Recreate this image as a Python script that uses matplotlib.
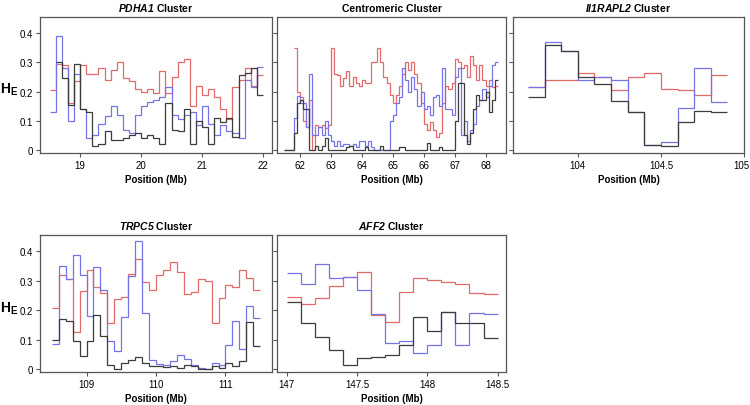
import numpy as np
import matplotlib
matplotlib.use("Agg")
import matplotlib.pyplot as plt
import matplotlib.transforms as mtransforms
from matplotlib import font_manager

# narrow sans if present, else plain Liberation Sans
FAM = "Liberation Sans"
try:
    font_manager.findfont("Liberation Sans Narrow", fallback_to_default=False)
    FAM = "Liberation Sans Narrow"
except Exception:
    pass

plt.rcParams['font.family'] = [FAM, 'DejaVu Sans']
plt.rcParams['mathtext.fontset'] = 'custom'
plt.rcParams['mathtext.bfit'] = FAM + ':bold:italic'
plt.rcParams['mathtext.rm'] = FAM + ':bold'

FS = 8 if FAM.endswith("Narrow") else 7

# ---- data: heterozygosity (H_E) in 0.1 Mb windows ----
bin_w = 0.1

# PDHA1 cluster
pdha1_start = 18.5
pdha1_red = [0.205, 0.295, 0.29, 0.16, 0.235, 0.29, 0.26, 0.26, 0.28, 0.24, 0.275, 0.30,
             0.245, 0.235, 0.21, 0.20, 0.21, 0.195, 0.27, 0.195, 0.25, 0.30, 0.31, 0.15,
             0.22, 0.19, 0.21, 0.18, 0.14, 0.105, 0.215, 0.24, 0.28, 0.22, 0.255]
pdha1_blue = [0.13, 0.39, 0.28, 0.10, 0.26, 0.14, 0.04, 0.05, 0.09, 0.115, 0.15, 0.12,
              0.07, 0.06, 0.12, 0.15, 0.165, 0.17, 0.18, 0.215, 0.12, 0.105, 0.12, 0.13,
              0.085, 0.15, 0.09, 0.05, 0.085, 0.065, 0.06, 0.04, 0.24, 0.215, 0.285]
pdha1_black_start = 18.6
pdha1_black = [0.30, 0.245, 0.155, 0.295, 0.14, 0.13, 0.015, 0.02, 0.065, 0.035, 0.035,
               0.04, 0.05, 0.06, 0.04, 0.05, 0.04, 0.02, 0.16, 0.07, 0.065, 0.14, 0.02,
               0.10, 0.08, 0.02, 0.11, 0.095, 0.11, 0.045, 0.255, 0.265, 0.28, 0.19]

# Centromeric cluster
cen_start = 61.5
cen_red_start = 61.8
cen_red = [0.35, 0.20, 0.18, 0.10, 0.08, 0.17, 0.0, 0.085, 0.08, 0.085, 0.075, 0.085,
           0.35, 0.26, 0.255, 0.22, 0.245, 0.27, 0.22, 0.25, 0.23, 0.22, 0.24, 0.23,
           0.23, 0.30, 0.30, 0.35, 0.30, 0.25, 0.23, 0.19, 0.16, 0.19, 0.22, 0.26,
           0.30, 0.275, 0.30, 0.26, 0.23, 0.16, 0.09, 0.07, 0.095, 0.07, 0.045, 0.06,
           0.16, 0.22, 0.21, 0.23, 0.31, 0.30, 0.28, 0.29, 0.25, 0.32, 0.29, 0.24,
           0.29, 0.24, 0.22, 0.24, 0.215, 0.22]
cen_blue = [0.0, 0.0, 0.0, 0.11, 0.185, 0.16, 0.16, 0.08, 0.26, 0.05, 0.05, 0.08,
            0.05, 0.10, 0.05, 0.03, 0.015, 0.03, 0.015, 0.02, 0.02, 0.015, 0.02, 0.01,
            0.03, 0.03, 0.015, 0.03, 0.01, 0.0, 0.0, 0.0, 0.0, 0.0, 0.10, 0.12,
            0.16, 0.18, 0.28, 0.24, 0.20, 0.25, 0.21, 0.15, 0.20, 0.14, 0.15, 0.12,
            0.18, 0.19, 0.15, 0.28, 0.14, 0.14, 0.12, 0.25, 0.28, 0.05, 0.10, 0.03,
            0.07, 0.09, 0.15, 0.17, 0.21, 0.18, 0.22, 0.29, 0.30]
cen_black = [0.0, 0.0, 0.0, 0.06, 0.16, 0.17, 0.14, 0.14, 0.0, 0.0, 0.015, 0.0,
             0.015, 0.04, 0.0, 0.0, 0.0, 0.0, 0.0, 0.0, 0.01, 0.015, 0.0, 0.0,
             0.0, 0.0, 0.01, 0.0, 0.0, 0.0, 0.0, 0.015, 0.0, 0.0, 0.0, 0.0,
             0.0, 0.01, 0.01, 0.0, 0.0, 0.0, 0.0, 0.0, 0.0, 0.0, 0.025, 0.0,
             0.0, 0.0, 0.01, 0.0, 0.0, 0.0, 0.0, 0.10, 0.23, 0.23, 0.05, 0.02,
             0.06, 0.14, 0.19, 0.17, 0.17, 0.20, 0.13, 0.17, 0.24]

# Il1RAPL2 cluster
il1_start = 103.7
il1_red = [0.215, 0.24, 0.24, 0.265, 0.25, 0.205, 0.25, 0.265, 0.21, 0.207, 0.19, 0.255]
il1_blue = [0.215, 0.37, 0.34, 0.24, 0.25, 0.24, 0.13, 0.018, 0.026, 0.143, 0.28, 0.163]
il1_black = [0.18, 0.36, 0.34, 0.25, 0.227, 0.167, 0.13, 0.018, 0.015, 0.095, 0.132, 0.13]

# TRPC5 cluster
trpc5_start = 108.5
trpc5_red = [0.206, 0.32, 0.305, 0.125, 0.265, 0.335, 0.277, 0.258, 0.157, 0.237,
             0.243, 0.322, 0.374, 0.296, 0.269, 0.32, 0.335, 0.362, 0.33, 0.254,
             0.26, 0.305, 0.30, 0.157, 0.24, 0.285, 0.28, 0.335, 0.308, 0.268]
trpc5_blue = [0.085, 0.35, 0.305, 0.387, 0.32, 0.18, 0.346, 0.27, 0.095, 0.06,
              0.178, 0.315, 0.433, 0.19, 0.032, 0.018, 0.013, 0.026, 0.048, 0.034,
              0.015, 0.003, 0.0, 0.02, 0.013, 0.08, 0.163, 0.068, 0.214, 0.174]
trpc5_black = [0.10, 0.169, 0.163, 0.095, 0.043, 0.095, 0.182, 0.112, 0.015, 0.0,
               0.02, 0.03, 0.041, 0.02, 0.01, 0.01, 0.006, 0.01, 0.003, 0.013,
               0.01, 0.0, 0.0, 0.01, 0.003, 0.02, 0.01, 0.028, 0.16, 0.077]

# AFF2 cluster
aff2_start = 147.0
aff2_red = [0.246, 0.22, 0.24, 0.283, 0.311, 0.33, 0.183, 0.16, 0.26, 0.309, 0.303,
            0.295, 0.289, 0.258, 0.254]
aff2_blue = [0.326, 0.289, 0.358, 0.308, 0.311, 0.267, 0.187, 0.09, 0.096, 0.056,
             0.081, 0.195, 0.081, 0.191, 0.187]
aff2_black = [0.227, 0.157, 0.109, 0.066, 0.013, 0.039, 0.041, 0.047, 0.081, 0.178,
              0.13, 0.193, 0.155, 0.157, 0.104]

yticks = [0, 0.1, 0.2, 0.3, 0.4]
ytick_labels = ["0", "0.1", "0.2", "0.3", "0.4"]

RED = "#e26a6a"
BLUE = "#7474e8"
BLACK = "#3c3c3c"


def edges(start, vals):
    return np.round(start + bin_w * np.arange(len(vals) + 1), 2)


def draw(ax, series, xlim, xticks, xticklabels, title, show_ylab):
    for start, vals, col in series:
        ax.stairs(vals, edges(start, vals), baseline=None, color=col, lw=0.9)
    ax.set_xlim(*xlim)
    ax.set_ylim(-0.01, 0.455)
    ax.set_xticks(xticks)
    ax.set_xticklabels(xticklabels, fontsize=FS)
    ax.set_yticks(yticks)
    if show_ylab:
        ax.set_yticklabels(ytick_labels, fontsize=FS)
        ax.set_ylabel(r"H$_\mathregular{E}$", rotation=0, fontsize=10,
                      fontweight="bold", ha="center", va="center")
        ax.yaxis.set_label_coords(-0.135, 0.47)
    else:
        ax.set_yticklabels([])
    ax.tick_params(length=3, width=0.8, color="#555555", pad=2)
    for s in ax.spines.values():
        s.set_color("#555555")
        s.set_linewidth(0.9)
    ax.set_xlabel("Position (Mb)", fontsize=FS, fontweight="bold", labelpad=3)
    ax.set_title(title, fontsize=FS + 0.5, fontweight="bold", pad=4)


fig = plt.figure(figsize=(7.5, 4.06), dpi=100)
W, H = 750.0, 406.0


def add_ax(x0, x1, y0, y1):
    return fig.add_axes([x0 / W, 1 - y1 / H, (x1 - x0) / W, (y1 - y0) / H])


ax1 = add_ax(40, 272, 18, 154)
draw(ax1, [(pdha1_start, pdha1_red, RED), (pdha1_start, pdha1_blue, BLUE),
           (pdha1_black_start, pdha1_black, BLACK)],
     (18.34, 22.15), [19, 20, 21, 22], ["19", "20", "21", "22"],
     r"$\mathbfit{PDHA1}$ Cluster", True)

ax2 = add_ax(277, 506, 18, 154)
draw(ax2, [(cen_red_start, cen_red, RED), (cen_start, cen_blue, BLUE),
           (cen_start, cen_black, BLACK)],
     (61.26, 68.66), [62, 63, 64, 65, 66, 67, 68],
     ["62", "63", "64", "65", "66", "67", "68"], "Centromeric Cluster", False)

ax3 = add_ax(513, 744, 18, 154)
draw(ax3, [(il1_start, il1_red, RED), (il1_start, il1_blue, BLUE),
           (il1_start, il1_black, BLACK)],
     (103.61, 105.0), [104, 104.5, 105], ["104", "104.5", "105"],
     r"$\mathbfit{Il1RAPL2}$ Cluster", False)
# nudge the last tick label so it stays inside the figure
last = ax3.get_xticklabels()[-1]
last.set_transform(last.get_transform() +
                   mtransforms.ScaledTranslation(-2.5 / 100, 0, fig.dpi_scale_trans))

ax4 = add_ax(40, 272, 236, 373)
draw(ax4, [(trpc5_start, trpc5_red, RED), (trpc5_start, trpc5_blue, BLUE),
           (trpc5_start, trpc5_black, BLACK)],
     (108.33, 111.67), [109, 110, 111], ["109", "110", "111"],
     r"$\mathbfit{TRPC5}$ Cluster", True)

ax5 = add_ax(277, 506, 236, 373)
draw(ax5, [(aff2_start, aff2_red, RED), (aff2_start, aff2_blue, BLUE),
           (aff2_start, aff2_black, BLACK)],
     (146.93, 148.56), [147, 147.5, 148, 148.5], ["147", "147.5", "148", "148.5"],
     r"$\mathbfit{AFF2}$ Cluster", False)

fig.savefig("out.png", dpi=100)
